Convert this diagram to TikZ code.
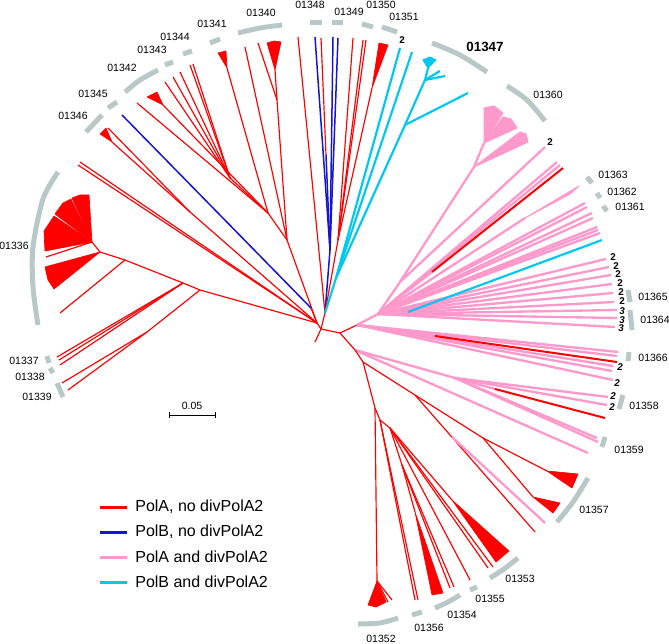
\documentclass[tikz,border=0pt]{standalone}
\usepackage{fontspec}
\setmainfont{Liberation Sans}
\definecolor{polared}{RGB}{255,0,0}
\definecolor{polbblue}{RGB}{20,20,210}
\definecolor{divpink}{RGB}{255,153,204}
\definecolor{divcyan}{RGB}{0,200,240}
\definecolor{arcgray}{RGB}{184,200,200}

% leaves hanging from one parent: style, parent, list of x/y
\newcommand{\treeleaves}[3]{%
  \foreach \lx/\ly [count=\k] in {#3} {%
    \coordinate (#2-\k) at (\lx,\ly);
    \draw[#1] (#2) -- (#2-\k);}}
% collapsed clade: style, apex, outer edge
\newcommand{\treefan}[3]{\fill[#1] (#2) -- #3 -- cycle;}

\begin{document}
\begin{tikzpicture}[x=0.6pt, y=-0.6pt,
    pola/.style={draw=polared, line width=0.7pt},
    polaw/.style={draw=polared, line width=1.2pt},
    polb/.style={draw=polbblue, line width=0.9pt},
    divA/.style={draw=divpink, line width=1.4pt},
    divB/.style={draw=divcyan, line width=1.3pt},
    fanA/.style={fill=polared, draw=polared, line width=0.4pt, line join=round},
    fanP/.style={fill=divpink, draw=divpink, line width=0.6pt, line join=round},
    fanC/.style={fill=divcyan, draw=divcyan, line width=0.6pt, line join=round},
    labelarc/.style={draw=arcgray, line width=3pt},
    lab/.style={font=\fontsize{6.3}{7}\selectfont, inner sep=0pt},
    cnt/.style={font=\fontsize{5.9}{6}\selectfont\bfseries, inner sep=0pt},
    cnti/.style={font=\fontsize{5.9}{6}\selectfont\bfseries\itshape, inner sep=0pt},
    legtext/.style={font=\fontsize{9.6}{11}\selectfont, inner sep=0pt, anchor=west}]
    \useasboundingbox (0,0) rectangle (669,643);

    % group arcs
    \draw[labelarc] plot[smooth] coordinates {(58,172) (43,199) (33,247) (33,287) (38,325)};
    \draw[labelarc] (47,356) -- (49,363);
    \draw[labelarc] (50,368) -- (53,373);
    \draw[labelarc] (57,383) -- (63,397);
    \draw[labelarc] (86,132) -- (102,115);
    \draw[labelarc] (108,108) -- (117,102);
    \draw[labelarc] plot[smooth] coordinates {(125,92) (140,80) (158,70)};
    \draw[labelarc] (165,65) -- (173,62);
    \draw[labelarc] (183,54) -- (192,51);
    \draw[labelarc] (210,43) -- (220,39);
    \draw[labelarc] plot[smooth] coordinates {(238,33) (260,28) (282,25)};
    \draw[labelarc] (310,23) -- (322,23);
    \draw[labelarc] (332,23) -- (343,23);
    \draw[labelarc] (362,24) -- (373,27);
    \draw[labelarc] (382,27) -- (397,32);
    \draw[labelarc] plot[smooth] coordinates {(432,43) (460,55) (487,72)};
    \draw[labelarc] plot[smooth] coordinates {(507,86) (527,100) (545,121)};
    \draw[labelarc] (587,177) -- (592,183);
    \draw[labelarc] (597,193) -- (600,198);
    \draw[labelarc] (603,206) -- (607,211);
    \draw[labelarc] (628,290) -- (630,302);
    \draw[labelarc] (630,310) -- (632,330);
    \draw[labelarc] (629,352) -- (628,361);
    \draw[labelarc] (623,395) -- (619,409);
    \draw[labelarc] (605,437) -- (602,447);
    \draw[labelarc] plot[smooth] coordinates {(588,478) (573,502) (557,522)};
    \draw[labelarc] plot[smooth] coordinates {(518,558) (504,569) (490,578)};
    \draw[labelarc] (477,587) -- (470,590);
    \draw[labelarc] plot[smooth] coordinates {(460,595) (448,602) (435,608)};
    \draw[labelarc] (422,612) -- (412,615);
    \draw[labelarc] plot[smooth] coordinates {(398,618) (380,623) (358,624)};

    % root
    \coordinate (root) at (321,329);
    \coordinate (rr) at (340,333);
    \coordinate (stub) at (315,342);
    \draw[pola] (root) -- (stub);
    \draw[pola] (root) -- (rr);

    % upper left, PolA only
    \coordinate (ul) at (317,323);
    \coordinate (n1) at (287,240);
    \coordinate (n1a) at (277,100);
    \coordinate (n2) at (268,213);
    \coordinate (n3) at (230,178);
    \coordinate (n4) at (190,212);
    \draw[pola] (root) -- (ul) -- (n1) -- (n1a);
    \draw[pola] (n1) -- (n2) -- (n3);
    \draw[pola] (ul) -- (n4);
    \treeleaves{pola}{n1a}{275/70, 258/43}
    \treefan{fanA}{n1a-1}{(267,43) -- (274,41) -- (281,42)}
    \treeleaves{pola}{n1}{245/47}
    \treeleaves{pola}{n2}{227/68, 163/105, 137/103}
    \treefan{fanA}{n2-1}{(218,53) -- (226,51)}
    \treefan{fanA}{n2-2}{(147,97) -- (157,92)}
    \treeleaves{pola}{n3}{190/65, 193/64, 180/72, 173/77, 165/82}
    \treeleaves{pola}{n4}{112/142, 108/128}
    \treefan{fanA}{n4-1}{(100,134) -- (106,128)}
    \treeleaves{pola}{ul}{80/162, 78/165}

    % PolB, no divPolA2
    \coordinate (bl) at (311,308);
    \draw[pola] (ul) -- (bl);
    \treeleaves{polb}{bl}{122/115}

    % clade 01336 and 01337-01339
    \coordinate (b1) at (200,290);
    \coordinate (b2) at (183,283);
    \coordinate (b3) at (125,260);
    \coordinate (b4) at (100,252);
    \coordinate (b5) at (92,242);
    \coordinate (b6) at (147,332);
    \draw[pola] (ul) -- (b1) -- (b2) -- (b3) -- (b4) -- (b5);
    \draw[pola] (b1) -- (b6);
    \treeleaves{pola}{b6}{62/383, 68/390}
    \treeleaves{pola}{b2}{57/357, 59/360, 60/365}
    \treeleaves{pola}{b3}{60/313}
    \treefan{fanA}{b4}{(45,267) -- (48,280) -- (54,289)}
    \treeleaves{pola}{b5}{46/257}
    \treefan{fanA}{b5}{(45,251) -- (44,231) -- (54,216)}
    \treefan{fanA}{b5}{(55,214) -- (63,203) -- (71,199)}
    \treefan{fanA}{b5}{(72,198) -- (80,195) -- (89,195)}

    % top clade
    \coordinate (t0) at (325,313);
    \coordinate (bn) at (330,250);
    \coordinate (bn2) at (326,155);
    \coordinate (rt) at (338,240);
    \draw[pola] (root) -- (t0);
    \draw[polb] (t0) -- (bn) -- (bn2);
    \treeleaves{polb}{bn}{315/37, 333/37, 338/38}
    \treeleaves{pola}{bn2}{321/38}
    \treeleaves{pola}{t0}{298/37}
    \draw[pola] (t0) -- (rt);
    \treeleaves{pola}{rt}{353/38, 363/40, 366/40, 372/88}
    \treefan{fanA}{rt-4}{(379,43) -- (388,45)}

    % PolB and divPolA2
    \coordinate (c1) at (336,278);
    \coordinate (c2) at (405,125);
    \coordinate (c3) at (425,80);
    \draw[divB] (t0) -- (c1) -- (c2) -- (c3);
    \treeleaves{divB}{c1}{400/48, 412/52}
    \treeleaves{divB}{c2}{468/93}
    \treeleaves{divB}{c3}{428/68, 440/71, 445/76}
    \treefan{fanC}{c3-1}{(423,60) -- (430,57) -- (436,60)}

    % PolA and divPolA2
    \coordinate (p0) at (357,325);
    \coordinate (pa) at (378,314);
    \coordinate (pt1) at (400,282);
    \coordinate (pt2) at (474,167);
    \coordinate (pt3) at (484,143);
    \coordinate (pw) at (525,218);
    \draw[pola] (rr) -- (p0);
    \draw[divA] (p0) -- (pa) -- (pt1) -- (pt2) -- (pt3);
    \treeleaves{divA}{pt1}{545/147}
    \treefan{fanP}{pt3}{(484,108) -- (494,106) -- (503,113)}
    \treefan{fanP}{pt3}{(503,117) -- (511,119) -- (517,128)}
    \treefan{fanP}{pt2}{(520,132) -- (526,134) -- (528,142)}
    \draw[divA] (pa) -- (pw);
    \treefan{fanP}{pw}{(570,194) -- (579,186)}
    \treeleaves{divA}{pa}{557/162, 560/165, 585/203, 587/207, 592/213, 593/218,
      597/227, 598/230, 600/233, 606/259, 609/267, 611/275, 612/284, 613/293,
      614/302, 617/310, 617/318, 615/327}
    \coordinate (pr) at (432,272);
    \draw[divA] (pa) -- (pr);
    \treeleaves{polaw}{pr}{563/168}
    \coordinate (pc) at (408,312);
    \draw[divA] (pa) -- (pc);
    \treeleaves{divB}{pc}{602/240}
    \treeleaves{divA}{p0}{618/352, 617/356, 613/366, 612/371, 613/380}
    \coordinate (pr2) at (435,336);
    \draw[divA] (p0) -- (pr2);
    \treeleaves{polaw}{pr2}{617/362}

    % 01358, 01359
    \coordinate (rd) at (355,350);
    \coordinate (pq) at (455,378);
    \coordinate (rq) at (495,389);
    \draw[pola] (rr) -- (rd);
    \draw[divA] (rd) -- (pq) -- (rq);
    \treeleaves{divA}{pq}{608/397, 607/405, 597/438, 598/442}
    \treeleaves{polaw}{rq}{605/418}
    \treeleaves{divA}{rd}{588/453}

    % bottom, PolA only
    \coordinate (rb) at (363,362);
    \coordinate (rb2) at (415,395);
    \coordinate (rb3) at (483,438);
    \coordinate (pk) at (452,437);
    \coordinate (rb4) at (375,408);
    \coordinate (rb5) at (380,420);
    \coordinate (rb6) at (390,428);
    \coordinate (rb7) at (402,465);
    \coordinate (rb9) at (377,581);
    \draw[pola] (rd) -- (rb) -- (rb2) -- (rb3);
    \treeleaves{pola}{rb3}{547/471, 533/497}
    \treefan{fanA}{rb3-1}{(578,474) -- (572,488)}
    \treefan{fanA}{rb3-2}{(560,503) -- (553,513)}
    \treeleaves{pola}{rb2}{535/532}
    \treeleaves{divA}{pk}{545/523}
    \draw[pola] (rb) -- (rb4) -- (rb9);
    \treefan{fanA}{rb9}{(368,605) -- (376,607) -- (386,602)}
    \treeleaves{pola}{rb9}{392/600, 388/602}
    \draw[pola] (rb4) -- (rb5) -- (rb6) -- (rb7);
    \treeleaves{pola}{rb5}{415/600, 418/600}
    \treeleaves{pola}{rb7}{415/512, 450/588, 454/587}
    \treefan{fanA}{rb7-1}{(432,595) -- (443,593)}
    \treeleaves{pola}{rb6}{470/580, 488/568, 493/567, 452/500}
    \treefan{fanA}{rb6-4}{(496,562) -- (509,551)}

    % group labels
    \foreach \gx/\gy/\gname in {14/246/01336, 24/361/01337, 30/377/01338, 37/397/01339,
        73/116/01346, 93/94/01345, 122/68/01342, 152/50/01343, 175/37/01344,
        212/24/01341, 261/13/01340, 310/5/01348, 349/12/01349, 381/5/01350,
        404/17/01351, 548/95/01360, 613/175/01363, 622/192/01362, 630/207/01361,
        653/297/01365, 655/320/01364, 653/358/01366, 644/406/01358, 629/450/01359,
        594/510/01357, 520/579/01353, 490/599/01355, 462/615/01354, 429/628/01356,
        381/639/01352}
      \node[lab] (l\gname) at (\gx,\gy) {\gname};
    \node[lab, font=\fontsize{8}{9}\selectfont\bfseries] (l01347) at (485,47) {01347};

    % copy numbers
    \foreach \nx/\ny [count=\i] in {402/40, 550/142, 613/257, 616/266, 618/274,
        620/283, 621/292, 622/301}
      \node[cnt] (two\i) at (\nx,\ny) {2};
    \foreach \nx/\ny [count=\i] in {622/311, 622/320, 621/328}
      \node[cnti] (three\i) at (\nx,\ny) {3};
    \foreach \nx/\ny [count=\i] in {620/367, 617/383, 613/396, 612/407}
      \node[cnti] (twoi\i) at (\nx,\ny) {2};

    % scale bar
    \coordinate (sb1) at (169,415);
    \coordinate (sb2) at (215,415);
    \draw[line width=0.6pt] (sb1) -- (sb2);
    \draw[line width=0.6pt] (sb1) ++(0,-3) -- ++(0,6);
    \draw[line width=0.6pt] (sb2) ++(0,-3) -- ++(0,6);
    \node[lab] (sblab) at (192,406) {0.05};

    % legend
    \foreach \col/\txt [count=\i] in {polared/{PolA, no divPolA2},
        polbblue/{PolB, no divPolA2}, divpink/{PolA and divPolA2},
        divcyan/{PolB and divPolA2}} {
      \coordinate (lg\i a) at (100,{482+25*\i});
      \coordinate (lg\i b) at (127,{482+25*\i});
      \draw[draw=\col, line width=1.8pt] (lg\i a) -- (lg\i b);
      \node[legtext] (lgt\i) at (135,{482+25*\i}) {\txt};
    }
\end{tikzpicture}
\end{document}
